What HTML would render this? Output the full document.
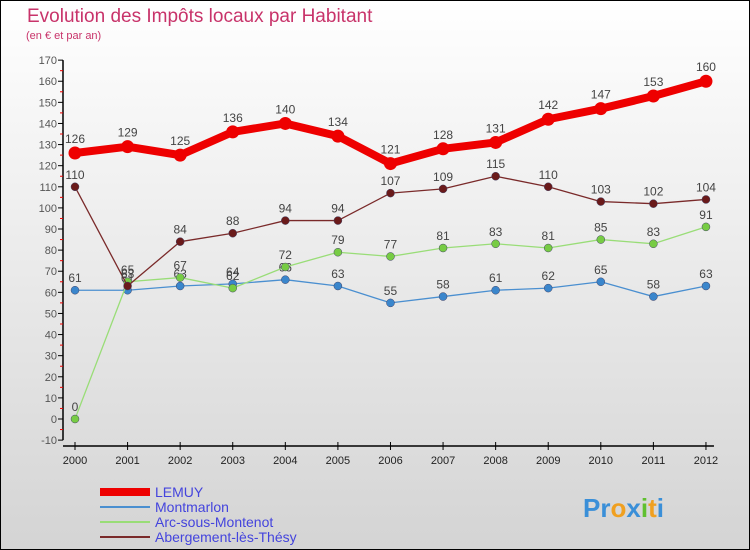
<!DOCTYPE html>
<html><head><meta charset="utf-8"><style>
body{margin:0;width:750px;height:550px;overflow:hidden}
svg{display:block;font-family:"Liberation Sans",sans-serif}
</style></head><body>
<svg id="c" width="750" height="550">
<defs><linearGradient id="bg" x1="0" y1="0" x2="0" y2="1"><stop offset="0" stop-color="#ffffff"/><stop offset="1" stop-color="#d4d4d4"/></linearGradient></defs>
<rect x="0.5" y="0.5" width="749" height="549" fill="url(#bg)" stroke="#000"/>
<text x="27" y="22" font-size="19" fill="#c8336a">Evolution des Impôts locaux par Habitant</text>
<text x="26" y="39" font-size="11" fill="#c8336a">(en € et par an)</text>
<g id="axes"></g><g id="series"></g><g id="legend"></g>
<text x="583" y="517" font-size="26" font-weight="bold"><tspan fill="#3a8fd8">Pr</tspan><tspan fill="#f0a020">o</tspan><tspan fill="#3a8fd8">x</tspan><tspan fill="#60c030">i</tspan><tspan fill="#f0a020">t</tspan><tspan fill="#3a8fd8">i</tspan></text>
</svg>
<script>
const years=[2000,2001,2002,2003,2004,2005,2006,2007,2008,2009,2010,2011,2012];
const yTicks=[-10,0,10,20,30,40,50,60,70,80,90,100,110,120,130,140,150,160,170];
const lemuy=[126,129,125,136,140,134,121,128,131,142,147,153,160];
const montmarlon=[61,61,63,64,66,63,55,58,61,62,65,58,63];
const arc=[0,65,67,62,72,79,77,81,83,81,85,83,91];
const aberg=[110,63,84,88,94,94,107,109,115,110,103,102,104];
const NS="http://www.w3.org/2000/svg";
const X=i=>75+i*52.58;
const Y=v=>419-v*2.111;
function mk(t,a,p){const e=document.createElementNS(NS,t);for(const k in a)e.setAttribute(k,a[k]);p.appendChild(e);return e;}
const ax=document.getElementById('axes');
const yl=mk('line',{x1:63,y1:Y(170),x2:63,y2:Y(-10),stroke:'#000','stroke-width':1.5},ax);


yTicks.forEach(v=>{
 const t=mk('line',{x1:58,y1:Y(v),x2:63,y2:Y(v),stroke:'#000'},ax);
 
 
 const m=mk('line',{x1:60,y1:Y(v+5),x2:63,y2:Y(v+5),stroke:'#e00'},ax);
 if(v==170)m.remove();
 const l=mk('text',{x:57,y:Y(v)+4,'font-size':11,fill:'#555','text-anchor':'end'},ax);
 l.textContent=v;
 
 
});
const xl=mk('line',{x1:63,y1:446,x2:X(12)+8,y2:446,stroke:'#000','stroke-width':1.5},ax);


years.forEach((y,i)=>{
 mk('line',{x1:X(i),y1:442,x2:X(i),y2:450,stroke:'#000'},ax);
 const l=mk('text',{x:X(i),y:464,'font-size':11,fill:'#222','text-anchor':'middle'},ax);
 l.textContent=y;
 
 
});
const sg=document.getElementById('series');
const defs=[
 {n:'montmarlon',d:montmarlon,c:'#4a8fd0',w:1.3,r:4,f:'#3a86cc'},
 {n:'arc-sous-montenot',d:arc,c:'#99dd77',w:1.3,r:4,f:'#77cc44'},
 {n:'abergement-les-thesy',d:aberg,c:'#7a2a2a',w:1.3,r:4,f:'#6a1a1a'},
 {n:'lemuy',d:lemuy,c:'#ee0000',w:8,r:6.5,f:'#ee0000'}];
defs.forEach(s=>{
 const g=mk('g',{},sg);
 
 
 const p=mk('polyline',{points:s.d.map((v,i)=>X(i)+','+Y(v)).join(' '),fill:'none',stroke:s.c,'stroke-width':s.w,'stroke-linejoin':'round'},g);
 
 
 s.d.forEach((v,i)=>{
  const c=mk('circle',{cx:X(i),cy:Y(v),r:s.r,fill:s.f,stroke:s.w>2?'none':'#446','stroke-width':0.5},g);
  
  
  const t=mk('text',{x:X(i),y:Y(v)-(s.w>2?10:8),'font-size':12,fill:'#444','text-anchor':'middle'},g);
  t.textContent=v;
  
  
 });
});
const lg=document.getElementById('legend');
[['LEMUY','#ee0000',8],['Montmarlon','#4a8fd0',2],['Arc-sous-Montenot','#99dd77',2],['Abergement-lès-Thésy','#7a2a2a',2]].forEach((e,i)=>{
 const y=492+i*15;
 const g=mk('g',{},lg);
 
 
 mk('line',{x1:100,y1:y,x2:150,y2:y,stroke:e[1],'stroke-width':e[2]},g);
 const t=mk('text',{x:155,y:y+5,'font-size':14,fill:'#4444dd'},g);
 t.textContent=e[0];
});
</script>
</body></html>
